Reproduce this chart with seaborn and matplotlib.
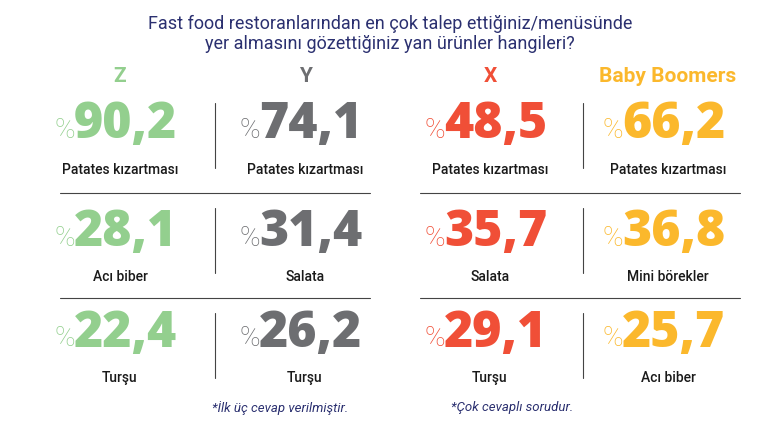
import matplotlib
matplotlib.use("Agg")
import matplotlib.pyplot as plt
import seaborn as sns

sns.set_theme(style="white")
plt.rcParams['font.family'] = ['Roboto', 'DejaVu Sans']

groups = ["Z", "Y", "X", "Baby Boomers"]
colors = ["#93cf8e", "#6d6e71", "#f04f37", "#fbb82c"]
values = [["90,2", "28,1", "22,4"],
          ["74,1", "31,4", "26,2"],
          ["48,5", "35,7", "29,1"],
          ["66,2", "36,8", "25,7"]]
labels = [["Patates kızartması", "Acı biber", "Turşu"],
          ["Patates kızartması", "Salata", "Turşu"],
          ["Patates kızartması", "Salata", "Turşu"],
          ["Patates kızartması", "Mini börekler", "Acı biber"]]
title = "Fast food restoranlarından en çok talep ettiğiniz/menüsünde\nyer almasını gözettiğiniz yan ürünler hangileri?"
notes = ["*İlk üç cevap verilmiştir.", "*Çok cevaplı sorudur."]

fig = plt.figure(figsize=(7.81, 4.33), dpi=100)
ax = fig.add_axes([0, 0, 1, 1])
ax.set_xlim(0, 781); ax.set_ylim(433, 0); ax.axis("off")

ax.text(390, 34, title, ha="center", va="center", fontsize=13, color="#2b3070", linespacing=1.15)
cx = [120, 305, 490, 668]
for i, g in enumerate(groups):
    ax.text(cx[i], 76, g, ha="center", va="center", fontsize=15, fontweight="bold", color=colors[i])
rows_num = [125, 233, 334]
rows_lab = [170, 277, 378]
for i in range(4):
    for r in range(3):
        sx = cx[i] - 45
        ax.text(sx, rows_num[r] + 5, "%", ha="right", va="center", fontsize=20, color=colors[i], fontweight="light")
        ax.text(sx - 1, rows_num[r], values[i][r], ha="left", va="center", fontsize=36,
                color=colors[i], fontweight="extra bold", family=["Open Sans", "DejaVu Sans"])
        ax.text(cx[i], rows_lab[r], labels[i][r], ha="center", va="center", fontsize=10, color="#1a1a1a", fontweight="medium")
for x in [215, 583]:
    for y0, y1 in [(103, 168), (208, 273), (313, 378)]:
        ax.plot([x, x], [y0, y1], color="#444444", lw=0.8)
for y in [193, 298]:
    ax.plot([60, 370], [y, y], color="#444444", lw=0.8)
    ax.plot([420, 740], [y, y], color="#444444", lw=0.8)
ax.text(280, 408, notes[0], ha="center", va="center", fontsize=9.5, style="italic", color="#2b3070")
ax.text(512, 408, notes[1], ha="center", va="center", fontsize=9.5, style="italic", color="#2b3070")
fig.savefig("out.png", dpi=100)
